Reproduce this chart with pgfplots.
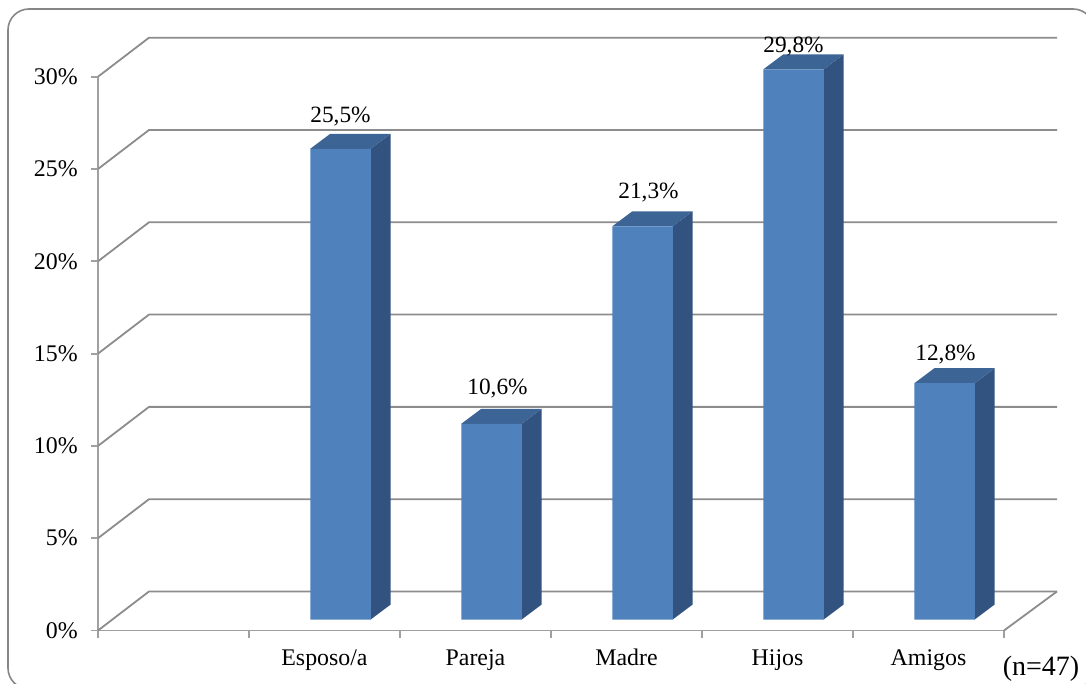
\documentclass[border=0pt]{standalone}
\usepackage{fontspec}
\setmainfont{Liberation Serif}
\usepackage{pgfplots}
\usepackage{pgfplotstable}
\pgfplotsset{compat=1.18}

\newlength{\px}\setlength{\px}{0.75pt}

\definecolor{barfront}{HTML}{4F81BD}
\definecolor{barside}{HTML}{325380}
\definecolor{bartop}{HTML}{3C6494}
\definecolor{wallline}{HTML}{8C8C8C}
\definecolor{axisline}{HTML}{A0A0A0}
\definecolor{frameline}{HTML}{868686}

% position, value and the offset of each value label from its default place
\pgfplotstableread{
pos  value  lx  ly
1.5  25.5   0   26
2.5  10.6   6   29
3.5  21.3   6   28
4.5  29.8   0   17
5.5  12.8   1   23
}\respuestas

% depth of a bar in axis units (20 px across, 15 px up) and half its width
\def\bardx{0.1325}
\def\bardy{0.813}
\def\barhw{0.2}

% side and top faces of one bar: position, value
\newcommand{\barfaces}[2]{%
  \pgfmathsetmacro{\xr}{#1+\barhw}%
  \pgfmathsetmacro{\xl}{#1-\barhw}%
  \pgfmathsetmacro{\xrb}{\xr+\bardx}%
  \pgfmathsetmacro{\xlb}{\xl+\bardx}%
  \pgfmathsetmacro{\yb}{#2+\bardy}%
  \edef\facecmd{%
    \noexpand\addplot[fill=barside, draw=none, xshift=16\px, yshift=11\px]
      coordinates {(\xr,0) (\xrb,\bardy) (\xrb,\yb) (\xr,#2)} -- cycle;
    \noexpand\addplot[fill=bartop, draw=none, xshift=16\px, yshift=11\px]
      coordinates {(\xl,#2) (\xr,#2) (\xrb,\yb) (\xlb,\yb)} -- cycle;
  }\facecmd
}

% one level of the back wall with its return to the front axis
\newcommand{\wall}[2]{%
  \addplot[wallline, line width=1.8\px] coordinates {(0,#1) (0.338,#2) (6.351,#2)};
}

\begin{document}
\begin{tikzpicture}
\useasboundingbox (0,0) rectangle (1086\px,683\px);
\clip (0,0) rectangle (1086\px,683\px);
\draw[frameline, line width=1.6\px, rounded corners=21\px]
  (8\px,674\px) rectangle (1094\px,-6\px);

\begin{axis}[
  at={(98\px,52.5\px)}, anchor=south west,
  scale only axis, width=906\px, height=553.8\px,
  xmin=0, xmax=6, ymin=0, ymax=30,
  clip=false,
  axis lines=left,
  axis line style={-, draw=axisline, line width=1.8\px},
  tick align=outside,
  tick style={draw=axisline, line width=1.8\px},
  ytick={0,5,...,30},
  major tick length=7\px,
  yticklabel={\pgfmathprintnumber[assume math mode=true]{\tick}\%},
  yticklabel style={inner sep=0pt, xshift=-13\px, font=\fontsize{17.9}{20}\selectfont},
  xtick={1.5,2.5,3.5,4.5,5.5},
  xticklabels={Esposo/a,Pareja,Madre,Hijos,Amigos},
  minor xtick={0,1,...,6},
  x tick style={draw=none},
  minor x tick style={draw=axisline, line width=1.8\px},
  minor tick length=7\px,
  xticklabel style={inner sep=0pt, anchor=base, yshift=-27.5\px, font=\fontsize{17.9}{20}\selectfont},
]
\wall{30}{32.115}
\wall{25}{27.115}
\wall{20}{22.115}
\wall{15}{17.115}
\wall{10}{12.115}
\wall{5}{7.115}
\wall{0}{2.115}
\addplot[wallline, line width=1.8\px] coordinates {(6,0) (6.351,2.115)};

\barfaces{1.5}{25.5}
\barfaces{2.5}{10.6}
\barfaces{3.5}{21.3}
\barfaces{4.5}{29.8}
\barfaces{5.5}{12.8}

\addplot[ybar, bar width=60.5\px, bar shift=0pt, fill=barfront, draw=none,
  xshift=16\px, yshift=11\px,
  visualization depends on={\thisrow{lx} \as \labeldx},
  visualization depends on={\thisrow{ly} \as \labeldy},
  nodes near coords={\pgfmathprintnumber[fixed, fixed zerofill, precision=1, use comma, assume math mode=true]{\pgfplotspointmeta}\%},
  every node near coord/.append style={anchor=base, inner sep=0pt,
    xshift=\labeldx\px, yshift=\labeldy\px, text=black,
    font=\fontsize{17.5}{20}\selectfont},
  point meta=y
] table[x=pos, y=value] {\respuestas};
\end{axis}

\node[inner sep=0pt, font=\fontsize{21}{24}\selectfont] at (1041\px,14.5\px) {(n=47)};
\end{tikzpicture}
\end{document}
